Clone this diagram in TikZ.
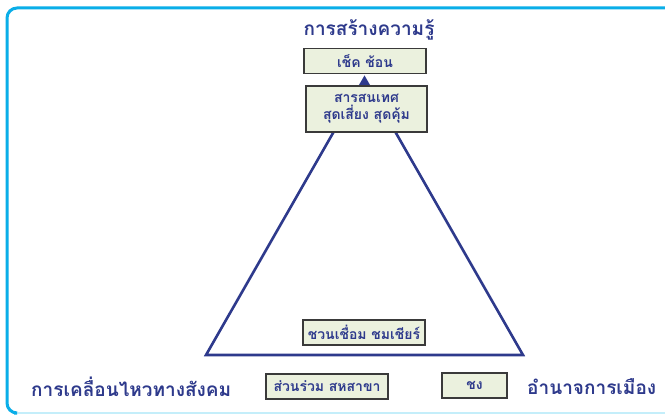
\documentclass[tikz,border=0pt]{standalone}
\usepackage{fontspec}
\usetikzlibrary{calc}
\newfontfamily\thai[Script=Thai]{Loma}
\definecolor{navy}{HTML}{2E3A8C}
\definecolor{frame}{HTML}{0AAEE8}
\definecolor{framelight}{HTML}{C4EEFA}
\definecolor{boxfill}{HTML}{EBF1DE}
\definecolor{boxline}{HTML}{3A3A3A}
\begin{document}
\begin{tikzpicture}[x=1pt,y=-1pt,
  lbl/.style={font=\thai\bfseries\fontsize{19}{22}\selectfont, text=navy, inner sep=0pt},
  tbox/.style={draw=boxline, line width=1.2pt, fill=boxfill, font=\thai\bfseries\fontsize{14}{17}\selectfont, text=navy, align=center, inner sep=0pt},
  tri/.style={draw=navy, line width=2.6pt, line join=miter}]
\useasboundingbox (0,0) rectangle (665,417);
\fill[white] (0,0) rectangle (665,417);
% frame
\draw[framelight, line width=2pt] (14,413) -- (670,413);
\draw[frame, line width=3pt, rounded corners=10pt] (14,413) -- (7,413) -- (7,8) -- (670,8);
% triangle
\coordinate (apex) at (364.5,78);
\coordinate (bl) at (206,355);
\coordinate (br) at (523,355);
\draw[tri] (apex) -- (br) -- (bl) -- cycle;
\fill[navy] (apex) -- ($(apex)!0.05!(br)$) -- ($(apex)!0.05!(bl)$) -- cycle;
% title and corner labels
\node[lbl] (title) at (369,30) {การสร้างความรู้};
\node[lbl, anchor=west] (social) at (31,387) {การเคลื่อนไหวทางสังคม};
\node[lbl, anchor=west] (polit) at (527,387) {อำนาจการเมือง};
% boxes
\node[tbox, minimum width=122pt, minimum height=25pt] (check) at (365,61) {เช็ค ช้อน};
\node[tbox, minimum width=121pt, minimum height=46pt] (info) at (366.5,109) {สารสนเทศ\\สุดเสี่ยง สุดคุ้ม};
\node[tbox, minimum width=122pt, minimum height=25pt] (link) at (364,332.5) {ชวนเชื่อม ชมเชียร์};
\node[tbox, minimum width=122pt, minimum height=25pt] (part) at (327,386.5) {ส่วนร่วม สหสาขา};
\node[tbox, minimum width=65pt, minimum height=25pt] (chong) at (474.5,385.5) {ชง};
\end{tikzpicture}
\end{document}
